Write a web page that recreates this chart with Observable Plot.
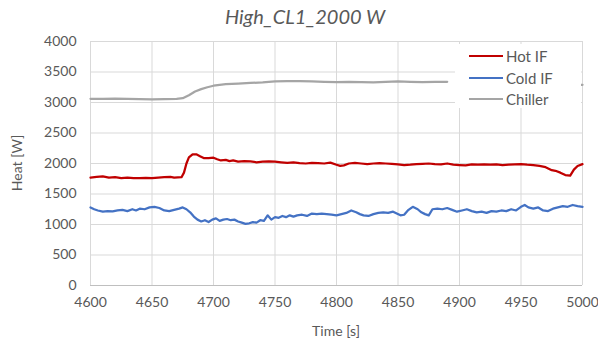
<!DOCTYPE html>
<html>
<head>
<meta charset="utf-8">
<script src="https://cdn.jsdelivr.net/npm/d3@7"></script>
<script src="https://cdn.jsdelivr.net/npm/@observablehq/plot@0.6"></script>
<style>
  html, body { margin: 0; padding: 0; background: #fff; }
  #wrap { position: relative; width: 598px; height: 345px; overflow: hidden; font-family: Lato, "Open Sans", sans-serif; color: #595959; }
  #title { position: absolute; left: 0; width: 610px; top: 4px; text-align: center; font-size: 20px; font-style: italic; }
  #chart { position: absolute; left: 0; top: 30px; }
  #ylab { position: absolute; left: 16px; top: 163px; transform: translate(-50%, -50%) rotate(-90deg); font-size: 14px; white-space: nowrap; }
  #xlab { position: absolute; left: 336px; top: 322px; transform: translateX(-50%); font-size: 14px; white-space: nowrap; }
  #legend { position: absolute; left: 455px; top: 44px; width: 126px; height: 64px; background: #fff; }
  .item { position: absolute; left: 14px; height: 20px; display: flex; align-items: center; font-size: 15px; }
  .sw { width: 34px; height: 0; border-top: 2.5px solid; margin-right: 3px; }
</style>
</head>
<body>
<div id="wrap">
  <div id="title">High_CL1_2000 W</div>
  <div id="chart"></div>
  <div id="ylab">Heat [W]</div>
  <div id="xlab">Time [s]</div>
  <div id="legend"></div>
</div>
<script>
const seriesNames = ["Hot IF", "Cold IF", "Chiller"];
const seriesColors = ["#C00000", "#4472C4", "#A5A5A5"];
const xTicks = [4600, 4650, 4700, 4750, 4800, 4850, 4900, 4950, 5000];
const yTicks = [0, 500, 1000, 1500, 2000, 2500, 3000, 3500, 4000];

const hotTime = [4600,4605,4610,4615,4620,4625,4630,4635,4640,4645,4650,4655,4660,4665,4668,4674,4676,4678,4680,4683,4686,4689,4692,4696,4700,4703,4706,4710,4713,4716,4720,4725,4730,4735,4740,4745,4750,4755,4760,4765,4770,4775,4780,4785,4790,4795,4800,4803,4806,4810,4815,4820,4825,4830,4835,4840,4845,4850,4855,4860,4865,4870,4875,4880,4885,4890,4895,4900,4905,4910,4915,4920,4925,4930,4935,4940,4945,4950,4955,4960,4965,4970,4975,4978,4982,4986,4990,4993,4996,5000];
const hotHeat = [1770,1780,1790,1770,1775,1760,1770,1760,1760,1765,1760,1770,1775,1780,1770,1775,1850,2000,2100,2150,2150,2120,2090,2090,2095,2070,2050,2060,2040,2050,2030,2040,2035,2020,2030,2035,2030,2020,2010,2020,2005,2000,2010,2005,2000,2015,1980,1960,1970,2000,2010,2000,1990,2000,2005,2000,1995,1985,1975,1980,1990,1995,2000,1990,1985,2000,1980,1975,1970,1985,1980,1985,1980,1985,1975,1980,1985,1990,1980,1975,1960,1940,1890,1880,1850,1810,1800,1900,1960,1990];

const coldTime = [4600,4603,4606,4610,4614,4618,4622,4626,4630,4634,4637,4640,4644,4648,4652,4656,4660,4664,4668,4672,4675,4678,4681,4684,4687,4690,4693,4696,4699,4702,4705,4708,4711,4714,4717,4720,4723,4726,4729,4732,4735,4738,4741,4744,4747,4750,4753,4756,4759,4762,4765,4768,4772,4776,4780,4784,4788,4792,4796,4800,4804,4808,4812,4816,4819,4822,4826,4830,4834,4838,4842,4846,4849,4852,4855,4858,4862,4866,4869,4872,4875,4878,4882,4886,4890,4894,4898,4902,4906,4910,4914,4918,4922,4926,4930,4934,4938,4942,4946,4950,4953,4956,4960,4964,4968,4972,4976,4980,4984,4988,4992,4996,5000];
const coldHeat = [1280,1250,1230,1210,1220,1215,1230,1240,1220,1250,1230,1260,1250,1280,1290,1270,1230,1220,1240,1260,1280,1250,1200,1130,1080,1050,1070,1040,1080,1100,1060,1080,1090,1070,1080,1050,1030,1010,1020,1040,1030,1070,1060,1150,1080,1120,1110,1140,1120,1150,1130,1150,1160,1140,1180,1170,1180,1170,1160,1150,1170,1190,1230,1200,1170,1150,1140,1170,1190,1200,1190,1210,1180,1150,1160,1230,1290,1250,1200,1170,1150,1250,1260,1250,1270,1240,1210,1230,1250,1220,1200,1210,1190,1220,1210,1230,1220,1250,1230,1290,1320,1280,1260,1280,1230,1220,1260,1280,1300,1290,1320,1300,1290];

const chillerTime = [4600,4610,4620,4630,4640,4650,4660,4670,4675,4680,4685,4690,4695,4700,4705,4710,4720,4730,4740,4750,4760,4770,4780,4790,4800,4810,4820,4830,4840,4850,4860,4870,4880,4890,4993,5000];
const chillerHeat = [3060,3060,3065,3060,3055,3050,3055,3060,3070,3120,3180,3220,3250,3275,3290,3300,3310,3320,3330,3345,3350,3350,3345,3340,3335,3340,3335,3330,3340,3345,3340,3335,3340,3340,3290,3290];

const rows = [];
hotTime.forEach((t, i) => rows.push({series: "Hot IF", t, v: hotHeat[i]}));
coldTime.forEach((t, i) => rows.push({series: "Cold IF", t, v: coldHeat[i]}));
chillerTime.forEach((t, i) => rows.push({series: "Chiller", t, v: chillerHeat[i]}));

const plot = Plot.plot({
  width: 598,
  height: 315,
  marginTop: 11,
  marginLeft: 90,
  marginRight: 16,
  marginBottom: 60,
  style: {fontFamily: "Lato, 'Open Sans', sans-serif", fontSize: "14px", color: "#595959", background: "transparent"},
  x: {domain: [4600, 5000], label: null},
  y: {domain: [0, 4000], label: null},
  color: {domain: seriesNames, range: seriesColors},
  marks: [
    Plot.gridX(xTicks, {stroke: "#D9D9D9", strokeOpacity: 1, strokeWidth: 1}),
    Plot.gridY(yTicks, {stroke: "#D9D9D9", strokeOpacity: 1, strokeWidth: 1}),
    Plot.ruleY([0], {stroke: "#BFBFBF", strokeWidth: 1}),
    Plot.axisX(xTicks, {tickSize: 0, tickPadding: 12, tickFormat: d => String(d), fill: "#595959"}),
    Plot.axisY(yTicks, {tickSize: 0, tickPadding: 14, tickFormat: d => String(d), fill: "#595959"}),
    Plot.line(rows.filter(d => d.series === "Chiller"), {x: "t", y: "v", stroke: "series", strokeWidth: 2.25, curve: "linear", filter: null,
      z: d => d.t < 4950 ? "a" : "b"}),
    Plot.line(rows.filter(d => d.series !== "Chiller"), {x: "t", y: "v", stroke: "series", z: "series", strokeWidth: 2.25})
  ]
});
document.getElementById("chart").appendChild(plot);

const leg = document.getElementById("legend");
seriesNames.forEach((n, i) => {
  const it = document.createElement("div");
  it.className = "item";
  it.style.top = (2 + i * 21.5) + "px";
  const sw = document.createElement("span");
  sw.className = "sw";
  sw.style.borderColor = seriesColors[i];
  it.appendChild(sw);
  it.appendChild(document.createTextNode(n));
  leg.appendChild(it);
});
</script>
</body>
</html>
